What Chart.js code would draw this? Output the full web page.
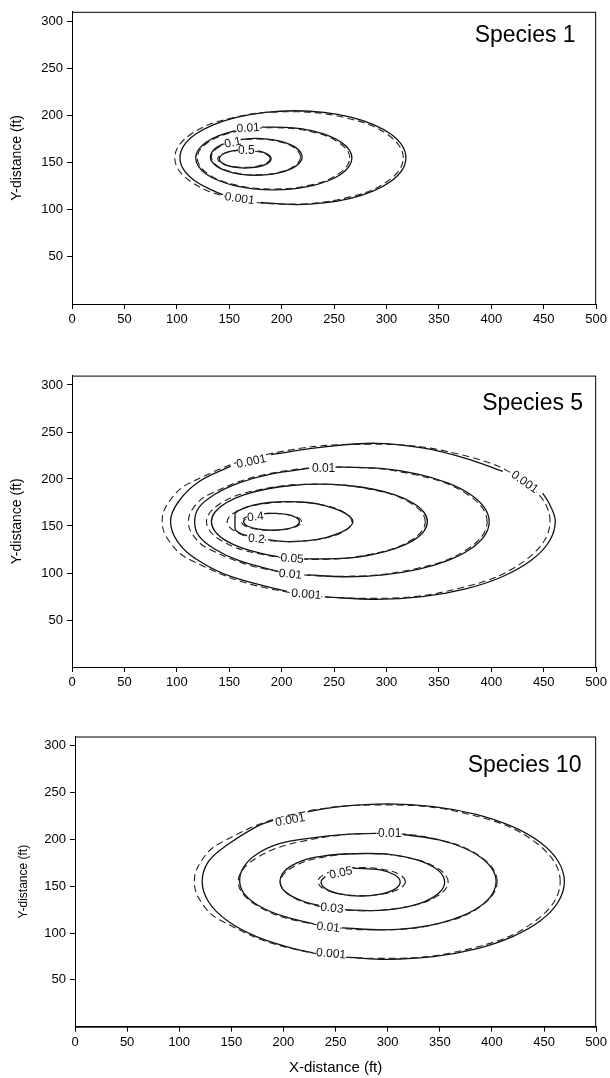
<!DOCTYPE html>
<html>
<head>
<meta charset="utf-8">
<script src="https://cdn.jsdelivr.net/npm/chart.js@4.4.0/dist/chart.umd.min.js"></script>
<style>
  html, body { margin: 0; padding: 0; background: #fff; }
  canvas { position: absolute; left: 0; }
</style>
</head>
<body>
<canvas id="sp1" width="610" height="340" style="top:0px"></canvas>
<canvas id="sp5" width="610" height="340" style="top:360px"></canvas>
<canvas id="sp10" width="610" height="358" style="top:720px"></canvas>
<script>
// axis ticks
const xTickValues = [0, 50, 100, 150, 200, 250, 300, 350, 400, 450, 500];
const yTickValues = [50, 100, 150, 200, 250, 300];

// Species 1 contours (x ft, y ft), null = gap for the label
const s1_0001 = [[180,107.7],[213,105.5],[240.3,107.2],[265.8,112.1],[287.6,120],[304.4,130.2],[315,142.2],[318.5,155],[315,168],[304.4,180],[287.6,190.4],[265.8,198.3],[240.3,203.3],[213,205],[184.5,203.3],[158,198.3],[135.2,190.4],[117.7,180],[106.7,168],[103,155],[106.7,142.2],[117.7,130.2],[135.2,120],[144,116]];
const s1_001 = [[181,187.7],[211.4,186.9],[229.5,183.6],[245,178.3],[256.9,171.5],[264.5,163.5],[267,155],[264.5,146.2],[256.9,138],[245,131],[229.5,125.6],[211.4,122.2],[192,121],[172.8,122.2],[155,125.6],[139.7,131],[127.9,138],[120.5,146.2],[118,155],[120.5,163.5],[127.9,171.5],[139.7,178.3],[156,184]];
const s1_01 = [[159,174.3],[175,175.7],[186.5,175],[197.3,173.1],[206.5,169.9],[213.5,165.9],[218,161.1],[219.5,156],[218,151],[213.5,146.3],[206.5,142.3],[197.3,139.2],[186.5,137.3],[175,136.6],[163.9,137.3],[153.5,139.2],[144.6,142.3],[137.8,146.3],[133.5,151],[132,156],[133.5,161.1],[137.8,165.9],[144.6,169.9]];
const s1_05 = [[177.5,162.4],[182.7,160.9],[186.7,158.9],[189.1,156.5],[190,154],[189.1,151.5],[186.7,149.2],[182.7,147.1],[177.5,145.6],[171.5,144.6],[165,144.3],[158.7,144.6],[152.8,145.6],[147.7,147.1],[143.8,149.2],[141.3,151.5],[140.5,154],[141.3,156.5],[143.8,158.9],[147.7,160.9],[152.8,162.4],[158.7,163.4]];
const s1_0001d = [[316,155],[301.4,179.5],[261.5,197.4],[207,204],[152.5,197.4],[112.6,179.5],[98,155],[112.6,130.5],[152.5,112.6],[207,106],[261.5,112.6],[301.4,130.5]];
const s1_001d = [[265,155],[254.8,171],[228.3,182.7],[192,187],[155.8,182.7],[129.2,171],[119.5,155],[129.2,138.5],[155.8,126.4],[192,122],[228.3,126.4],[254.8,138.5]];
const s1_01d = [[218,156],[212.3,165.5],[196.8,172.5],[175.5,175],[154.3,172.5],[138.7,165.5],[133,156],[138.7,146.5],[154.3,139.5],[175.5,137],[196.8,139.5],[212.3,146.5]];
const s1_05d = [[189,154],[185.7,158.5],[176.5,161.8],[164,163],[151.5,161.8],[142.3,158.5],[139,154],[142.3,149.5],[151.5,146.2],[164,145],[176.5,146.2],[185.7,149.5]];
const s1_labels = [['0.5',166.3,163,0],['0.1',153.3,171.5,-12],['0.01',168,187,-3],['0.001',160,112,8]];

// Species 5 contours
const s5_0001 = [[190,226],[239.2,234],[290,238],[334.3,233],[375.5,222],[410.9,208],null,[449,185],[455.2,174],[461,155],[455.2,133.5],[438.1,113.5],[410.9,96.3],[375.5,83.1],[334.3,74.8],[290,72],[241,74.6],null,[205,80.5],[151.4,96.3],[120.3,113.5],[100.7,133.5],[94,155],[101,175],[120.3,196.5],[151.4,213.7]];
const s5_001 = [[252,212.8],[297.2,211],[330,205.2],[358.2,195.9],[379.8,183.8],[393.4,169.6],[398,154.5],[393.4,139.4],[379.8,125.2],[358.2,113.1],[330,103.8],[297.2,98],[262,96],[224,98],null,[197,101.5],[159.5,113.1],[136.4,125.2],[121,139.4],[117,154.5],[121,169.6],[136.4,183.8],[159.5,195.9],[189.5,205.2],[226,211.2]];
const s5_005 = [[222,115],[262.7,115.9],[287.5,119.9],[308.8,126.2],[325.2,134.5],[335.5,144.1],[339,154.5],[335.5,164.9],[325.2,174.5],[308.8,182.8],[287.5,189.1],[262.7,193.1],[236,194.5],[209.3,193.1],[184.5,189.1],[163.2,182.8],[146.8,174.5],[136.5,164.9],[133,154.5],[136.5,144.1],[146.8,134.5],[163.2,126.2],[184.5,119.9],[197,117.3]];
const s5_02 = [[187,135.5],[205,133.3],[225,134.5],[243,138],[257,143.5],[265,149],[268,154.5],[265,160],[256,166],[242,171.5],[225,175],[206,176],[188,175],[172,172],[162,168],[156,164],[155.5,160],[155.5,150],[156,145.5],[160,142.5],[167,139.5]];
const s5_04 = [[183,163.1],[192,163.5],[204.5,162.3],[213.7,159],[217,154.5],[213.7,150],[204.5,146.7],[192,145.5],[177.8,146.7],[167.3,150],[163.5,154.5],[165.5,157.5]];
const s5_0001d = [[456,155],[433,196],[370.5,226],[285,237],[185.5,226],[112.7,196],[92.8,176.2],[86,155],[92.8,133.8],[112.7,114],[185.5,84],[285,73],[370.5,84],[433,114]];
const s5_001d = [[396,154.5],[377.4,183.5],[326.5,204.7],[257,212.5],[184,204.7],[130.6,183.5],[116,169.5],[111,154.5],[116,139.5],[130.6,125.5],[184,104.3],[257,96.5],[326.5,104.3],[377.4,125.5]];
const s5_005d = [[337,154.5],[323,174.5],[285,189],[233,194.5],[180.6,189],[142.3,174.5],[128.3,154.5],[142.3,134.5],[180.6,120],[233,114.5],[285,120],[323,134.5]];
const s5_02d = [[267,154.5],[259,165],[237.3,172.7],[207.5,175.5],[177.8,172.7],[156,165],[148,154.5],[156,144],[177.8,136.3],[207.5,133.5],[237.3,136.3],[259,144]];
const s5_04d = [[219,154.5],[215.2,159],[204.6,162.3],[190.3,163.5],[175.9,162.3],[165.4,159],[161.5,154.5],[165.4,150],[175.9,146.7],[190.3,145.5],[204.6,146.7],[215.2,150]];
const s5_labels = [['0.001',171,219,-12],['0.01',240,212,0],['0.001',432,197,35],['0.4',175,160,-6],['0.2',176,136.7,6],['0.05',210,115.6,4],['0.01',208.4,99,5],['0.001',223.5,77.7,5]];

// Species 10 contours
const s10_0001 = [[223,229.5],[253.9,235.2],[300,238],[343.9,235.2],[384.8,226.9],[419.8,213.7],[446.8,196.5],[463.7,176.5],[469.5,155],[463.7,133.5],[446.8,113.5],[419.8,96.3],[384.8,83.1],[343.9,74.8],[300,72],[263,74],null,[228,79],[211,83.1],[174.1,96.3],[145.8,113.5],[128.1,133.5],[122,155],[128.1,176.5],[145.8,194],[174.1,213.7],[190,220.5]];
const s10_001 = [[315,205.3],[349.5,199.6],[372.1,191.4],[389.4,180.8],[400.3,168.3],[404,155],[400.3,141.7],[389.4,129.2],[372.1,118.6],[349.5,110.4],[323.2,105.3],[295,103.5],[256,105.6],null,[229,109.9],[198.1,118.6],[176.4,129.2],[162.7,141.7],[158,155],[161.5,170],[174,184],[196,195.5],[226,201.5],[260,205.5],[289,206.5]];
const s10_003 = [[259,125],[283,124],[301.6,125.1],[318.9,128.1],[333.7,132.9],[345.1,139.2],[352.3,146.6],[354.7,154.5],[352.3,162.4],[345.1,169.8],[333.7,176.1],[318.9,180.9],[301.6,184],[283,185],[260,184.5],[239,182.5],[221,178.5],[207,171.5],[199,163.5],[196.6,154.5],[199.5,146.6],[208.2,139.2],[221.9,132.9],[234,129.5]];
const s10_005 = [[267,169.3],[293,167.5],[306.9,162],[312,154.5],[306.9,147],[293,141.5],[274,139.5],[255,141.5],[241.1,147],[236,154.5],[240,160.5]];
const s10_0001d = [[465.5,155],[442.9,196],[381.3,226],[297,237],[205.8,226],[139,196],[120.7,176.2],[114.5,155],[120.7,133.8],[139,114],[205.8,84],[297,73],[381.3,84],[442.9,114]];
const s10_001d = [[405,155],[390.1,180.8],[349.5,199.6],[294,206.5],[225.3,199.6],[174.9,180.8],[156.5,155],[174.9,129.2],[225.3,110.4],[294,103.5],[349.5,110.4],[390.1,129.2]];
const s10_003d = [[358,154.5],[347.2,169.8],[317.8,180.9],[277.5,185],[237.3,180.9],[207.8,169.8],[197,154.5],[207.8,139.2],[237.3,128.1],[277.5,124],[317.8,128.1],[347.2,139.2]];
const s10_005d = [[317,155],[311.4,162.5],[296,168],[275,170],[254,168],[238.6,162.5],[233,155],[238.6,147.5],[254,142],[275,140],[296,142],[311.4,147.5]];
const s10_labels = [['0.001',206.5,221,-10],['0.01',302,206.4,0],['0.05',255,164.6,-12],['0.03',246.5,127,6],['0.01',243,106.7,6],['0.001',245.7,78.3,5]];

const panels = [
  { id: 'sp1', name: 'Species 1', solid: [s1_0001, s1_001, s1_01, s1_05], dashed: [s1_0001d, s1_001d, s1_01d, s1_05d], labels: s1_labels,
    padTop: 9.4, padRight: 13, yWidth: 72, xHeight: 36, yTitleSize: 14, yTitlePad: 9, xTitle: false, nameDx: 20.5, nameDy: 30 },
  { id: 'sp5', name: 'Species 5', solid: [s5_0001, s5_001, s5_005, s5_02, s5_04], dashed: [s5_0001d, s5_001d, s5_005d, s5_02d, s5_04d], labels: s5_labels,
    padTop: 15.6, padRight: 13, yWidth: 72, xHeight: 33, yTitleSize: 14, yTitlePad: 9, xTitle: false, nameDx: 13, nameDy: 34.4 },
  { id: 'sp10', name: 'Species 10', solid: [s10_0001, s10_001, s10_003, s10_005], dashed: [s10_0001d, s10_001d, s10_003d, s10_005d], labels: s10_labels,
    padTop: 16.5, padRight: 11, yWidth: 75, xHeight: 51.3, yTitleSize: 12, yTitlePad: 16, xTitle: true, nameDx: 14.7, nameDy: 35.2 }
];

Chart.defaults.font.family = '"Liberation Sans", Arial, sans-serif';
Chart.defaults.color = '#000';

function toPts(arr) {
  return arr.map(p => p ? { x: p[0], y: p[1] } : { x: null, y: null });
}

// dashed contours are closed rings: let the line element wrap like a radar line
const closeRings = {
  id: 'closeRings',
  afterDatasetsUpdate(chart) {
    chart.data.datasets.forEach((ds, i) => {
      if (!ds.ring) return;
      const line = chart.getDatasetMeta(i).dataset;
      if (!line) return;
      line._loop = true;
      line._fullLoop = true;
      line._pointsUpdated = false;
      line._segments = undefined;
      line._path = undefined;
    });
  }
};

// frame, species name and contour labels
const decor = {
  id: 'decor',
  afterDatasetsDraw(chart, args, opts) {
    const { ctx, chartArea: ca, scales: { x, y } } = chart;
    ctx.save();
    ctx.font = '12px "Liberation Sans", Arial, sans-serif';
    ctx.textAlign = 'center';
    ctx.textBaseline = 'middle';
    opts.labels.forEach(l => {
      const px = x.getPixelForValue(l[1]);
      const py = y.getPixelForValue(l[2]);
      ctx.save();
      ctx.translate(px, py);
      ctx.rotate(l[3] * Math.PI / 180);
      const w = ctx.measureText(l[0]).width;
      ctx.fillStyle = '#fff';
      ctx.fillRect(-w / 2, -4, w, 8);
      ctx.fillStyle = '#111';
      ctx.fillText(l[0], 0, 0.5);
      ctx.restore();
    });
    ctx.strokeStyle = '#000';
    ctx.lineWidth = 1;
    ctx.strokeRect(ca.left + 0.5, ca.top + 0.5, ca.right - ca.left - 1, ca.bottom - ca.top);
    ctx.font = '23px "Liberation Sans", Arial, sans-serif';
    ctx.textAlign = 'right';
    ctx.textBaseline = 'alphabetic';
    ctx.fillStyle = '#000';
    ctx.fillText(opts.name, ca.right - opts.nameDx, ca.top + opts.nameDy);
    ctx.restore();
  }
};

panels.forEach(p => {
  const datasets = [];
  p.dashed.forEach(d => datasets.push({
    data: toPts(d), ring: true, borderColor: '#222', borderWidth: 1.1, borderDash: [7, 4],
    pointRadius: 0, tension: 0.4, fill: false, spanGaps: false
  }));
  p.solid.forEach(d => datasets.push({
    data: toPts(d), borderColor: '#111', borderWidth: 1.3,
    pointRadius: 0, tension: 0.4, fill: false, spanGaps: false
  }));

  new Chart(document.getElementById(p.id), {
    type: 'line',
    data: { datasets },
    options: {
      responsive: false,
      animation: false,
      events: [],
      parsing: true,
      layout: { padding: { top: p.padTop, right: p.padRight, left: 0, bottom: 0 } },
      plugins: {
        legend: { display: false },
        tooltip: { enabled: false },
        decor: { labels: p.labels, name: p.name, nameDx: p.nameDx, nameDy: p.nameDy }
      },
      scales: {
        x: {
          type: 'linear', min: 0, max: 500,
          afterBuildTicks: s => { s.ticks = xTickValues.map(v => ({ value: v })); },
          afterFit: s => { s.height = p.xHeight; },
          grid: { display: true, drawOnChartArea: false, drawTicks: true, tickLength: 5, color: '#000' },
          border: { display: true, color: '#000', width: 1 },
          ticks: { font: { size: 13 }, padding: 3, maxRotation: 0, color: '#000' },
          title: { display: p.xTitle, text: 'X-distance (ft)', font: { size: 15 }, padding: { top: 0, bottom: 1 }, color: '#000' }
        },
        y: {
          type: 'linear', min: 0, max: 310,
          afterBuildTicks: s => { s.ticks = yTickValues.map(v => ({ value: v })); },
          afterFit: s => { s.width = p.yWidth; },
          grid: { display: true, drawOnChartArea: false, drawTicks: true, tickLength: 5, color: '#000' },
          border: { display: true, color: '#000', width: 1 },
          ticks: { font: { size: 13 }, padding: 4, color: '#000' },
          title: { display: true, text: 'Y-distance (ft)', font: { size: p.yTitleSize }, padding: { top: p.yTitlePad, bottom: 0 }, color: '#000' }
        }
      }
    },
    plugins: [closeRings, decor]
  });
});
</script>
</body>
</html>
